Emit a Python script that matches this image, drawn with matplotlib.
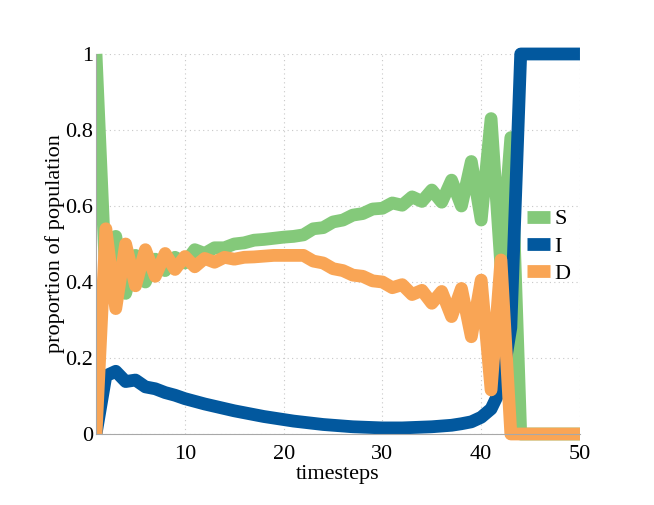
import numpy as np
import matplotlib
matplotlib.use('Agg')
import matplotlib.pyplot as plt
from matplotlib.patches import Rectangle

# values
timesteps = np.arange(1, 51)
S = [1.0, 0.40, 0.52, 0.37, 0.47, 0.40, 0.46, 0.43, 0.465, 0.45,
     0.485, 0.475, 0.49, 0.49, 0.50, 0.503, 0.51, 0.512, 0.515, 0.518,
     0.52, 0.524, 0.54, 0.543, 0.558, 0.563, 0.576, 0.58, 0.592, 0.594,
     0.608, 0.602, 0.624, 0.612, 0.642, 0.61, 0.668, 0.60, 0.717, 0.563,
     0.83, 0.44, 0.78, 0.0, 0.0, 0.0, 0.0, 0.0, 0.0, 0.0]
I = [0.0, 0.153, 0.165, 0.138, 0.142, 0.124, 0.119, 0.109, 0.102, 0.093,
     0.086, 0.079, 0.073, 0.067, 0.061, 0.056, 0.051, 0.046, 0.042, 0.038,
     0.034, 0.031, 0.028, 0.025, 0.023, 0.021, 0.019, 0.018, 0.017, 0.016,
     0.016, 0.016, 0.017, 0.018, 0.019, 0.021, 0.023, 0.027, 0.032, 0.044,
     0.066, 0.12, 0.28, 1.0, 1.0, 1.0, 1.0, 1.0, 1.0, 1.0]
D = [0.0, 0.54, 0.33, 0.50, 0.39, 0.485, 0.415, 0.475, 0.433, 0.467,
     0.44, 0.462, 0.452, 0.465, 0.46, 0.465, 0.466, 0.468, 0.47, 0.47,
     0.47, 0.47, 0.455, 0.45, 0.435, 0.43, 0.418, 0.415, 0.403, 0.40,
     0.385, 0.393, 0.367, 0.378, 0.344, 0.375, 0.309, 0.383, 0.256, 0.405,
     0.116, 0.458, 0.0, 0.0, 0.0, 0.0, 0.0, 0.0, 0.0, 0.0]
labels = ['S', 'I', 'D']
colors = ['#84c97a', '#02589e', '#f9a555']
xticks = [10, 20, 30, 40, 50]
yticks = [0, 0.2, 0.4, 0.6, 0.8, 1]
yticklabels = ['0', '0.2', '0.4', '0.6', '0.8', '1']

plt.rcParams['font.family'] = ['Liberation Serif', 'DejaVu Serif']
plt.rcParams['font.size'] = 16

fig = plt.figure(figsize=(6.54, 5.05), dpi=100)
ax = fig.add_axes([0.1468, 0.1406, 0.740, 0.7525])

clip = Rectangle((0, -0.1), 1, 1.2, transform=ax.transAxes)
for y, lab, c in zip([S, I, D], labels, colors):
    ln, = ax.plot(timesteps, y, color=c, lw=9.2, label=lab,
                  solid_capstyle='butt', solid_joinstyle='round')
    ln.set_clip_path(clip)

ax.set_xlim(1, 50)
ax.set_ylim(0, 1)
ax.set_xticks(xticks)
ax.set_yticks(yticks)
ax.set_yticklabels(yticklabels)
ax.grid(True, linestyle=(0, (1, 3)), color='#c8c8c8', lw=0.8)
ax.set_axisbelow(True)
for s in ['top', 'right']:
    ax.spines[s].set_visible(False)
for s in ['left', 'bottom']:
    ax.spines[s].set_color('#a8a8a8')
    ax.spines[s].set_linewidth(0.8)
ax.tick_params(length=0, pad=2)
ax.tick_params(axis='x', pad=8)

ax.set_xlabel('timesteps', labelpad=1)
ax.set_ylabel('proportion of population', labelpad=0)

ax.legend(loc='center left', bbox_to_anchor=(0.89, 0.494), frameon=False,
          handlelength=1.05, handletextpad=0.2, borderpad=0, borderaxespad=0,
          labelspacing=0.3)

fig.savefig('out.png', dpi=100)
